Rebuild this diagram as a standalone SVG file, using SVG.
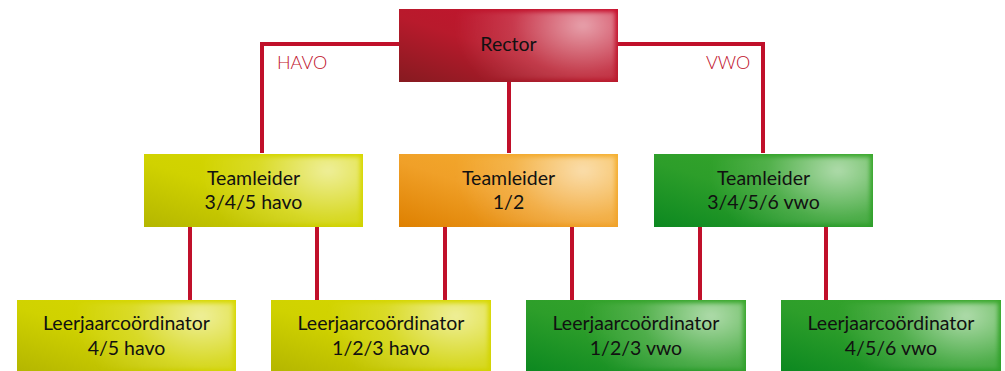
<svg xmlns="http://www.w3.org/2000/svg" width="1005" height="371" viewBox="0 0 1005 371">
<style>
.ln{stroke:#c0102a;stroke-width:4;fill:none}
.t{font-family:Lato,"Noto Sans",sans-serif;font-size:19.5px;fill:#111;text-anchor:middle}
.lbl{font-family:Lato,"Noto Sans",sans-serif;font-size:18px;fill:#c0102a;font-weight:300}
</style>
<defs>
<linearGradient id="gRed" x1="0" y1="1" x2="1" y2="0">
<stop offset="0" stop-color="#861a20"/><stop offset="0.45" stop-color="#b81a2c"/><stop offset="1" stop-color="#c8102e"/>
</linearGradient>
<linearGradient id="gYel" x1="0" y1="1" x2="1" y2="0">
<stop offset="0" stop-color="#b4b600"/><stop offset="0.45" stop-color="#d0d200"/><stop offset="1" stop-color="#d8d800"/>
</linearGradient>
<linearGradient id="gOra" x1="0" y1="1" x2="1" y2="0">
<stop offset="0" stop-color="#de8000"/><stop offset="0.45" stop-color="#f0a028"/><stop offset="1" stop-color="#f5b030"/>
</linearGradient>
<linearGradient id="gGrn" x1="0" y1="1" x2="1" y2="0">
<stop offset="0" stop-color="#0c8820"/><stop offset="0.45" stop-color="#2d9e2a"/><stop offset="1" stop-color="#3aa82c"/>
</linearGradient>
<radialGradient id="hi" cx="0.85" cy="0.2" r="0.6" gradientTransform="translate(0.85 0.2) scale(1 2.2) translate(-0.85 -0.2)">
<stop offset="0" stop-color="#fff" stop-opacity="0.6"/><stop offset="0.55" stop-color="#fff" stop-opacity="0.15"/><stop offset="1" stop-color="#fff" stop-opacity="0"/>
</radialGradient>
<filter id="soft" x="-5%" y="-10%" width="110%" height="120%"><feGaussianBlur stdDeviation="2"/></filter>
</defs>

<g id="connectors">
<path class="ln" d="M262 153 V44 H763 V153"/>
<path class="ln" d="M509 82 V153"/>
<path class="ln" d="M190 227 V300 M317 227 V300"/>
<path class="ln" d="M445 227 V300 M572 227 V300"/>
<path class="ln" d="M700 227 V300 M826 227 V300"/>
<text class="lbl" x="277" y="69">HAVO</text>
<text class="lbl" x="706" y="69">VWO</text>
</g>

<g id="rector">
<rect x="399" y="9" width="219" height="73" fill="url(#gRed)"/>
<rect x="402" y="12" width="213" height="67" fill="url(#hi)" filter="url(#soft)"/>
<text class="t" x="508.5" y="51">Rector</text>
</g>

<g id="teamleider-havo">
<rect x="144" y="154" width="219" height="73" fill="url(#gYel)"/>
<rect x="147" y="157" width="213" height="67" fill="url(#hi)" filter="url(#soft)"/>
<text class="t" x="253.5" y="185">Teamleider</text>
<text class="t" x="253.5" y="209">3/4/5 havo</text>
</g>

<g id="teamleider-12">
<rect x="399" y="154" width="219" height="73" fill="url(#gOra)"/>
<rect x="402" y="157" width="213" height="67" fill="url(#hi)" filter="url(#soft)"/>
<text class="t" x="508.5" y="185">Teamleider</text>
<text class="t" x="508.5" y="209">1/2</text>
</g>

<g id="teamleider-vwo">
<rect x="654" y="154" width="219" height="73" fill="url(#gGrn)"/>
<rect x="657" y="157" width="213" height="67" fill="url(#hi)" filter="url(#soft)"/>
<text class="t" x="763.5" y="185">Teamleider</text>
<text class="t" x="763.5" y="209">3/4/5/6 vwo</text>
</g>

<g id="leerjaar-45havo">
<rect x="17" y="300" width="219" height="71" fill="url(#gYel)"/>
<rect x="20" y="303" width="213" height="66" fill="url(#hi)" filter="url(#soft)"/>
<text class="t" x="126.5" y="330">Leerjaarcoördinator</text>
<text class="t" x="126.5" y="355">4/5 havo</text>
</g>

<g id="leerjaar-123havo">
<rect x="271" y="300" width="220" height="71" fill="url(#gYel)"/>
<rect x="274" y="303" width="214" height="66" fill="url(#hi)" filter="url(#soft)"/>
<text class="t" x="381" y="330">Leerjaarcoördinator</text>
<text class="t" x="381" y="355">1/2/3 havo</text>
</g>

<g id="leerjaar-123vwo">
<rect x="526" y="300" width="220" height="71" fill="url(#gGrn)"/>
<rect x="529" y="303" width="214" height="66" fill="url(#hi)" filter="url(#soft)"/>
<text class="t" x="636" y="330">Leerjaarcoördinator</text>
<text class="t" x="636" y="355">1/2/3 vwo</text>
</g>

<g id="leerjaar-456vwo">
<rect x="781" y="300" width="220" height="71" fill="url(#gGrn)"/>
<rect x="784" y="303" width="214" height="66" fill="url(#hi)" filter="url(#soft)"/>
<text class="t" x="891" y="330">Leerjaarcoördinator</text>
<text class="t" x="891" y="355">4/5/6 vwo</text>
</g>
</svg>
